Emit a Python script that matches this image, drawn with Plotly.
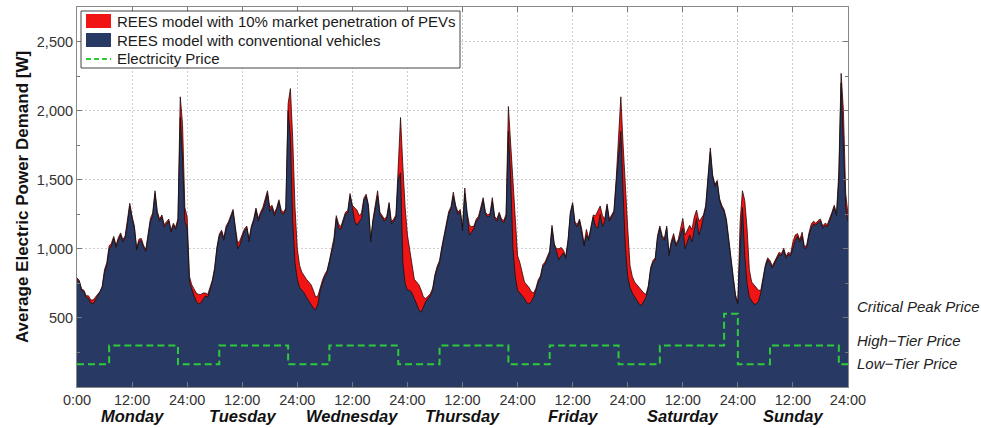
import numpy as np
import plotly.graph_objects as go

# Half-hourly time stamps over one week (hours since Monday 0:00)
hours = np.arange(0, 168.5, 0.5)

# Average household demand, conventional vehicles [W]
demand_conventional = [
    # Monday
    780, 760, 700, 690, 650, 640, 610, 600, 630, 660,
    680, 720, 830, 880, 1000, 1020, 1075, 1010, 1060, 1100,
    1050, 1080, 1180, 1310, 1220, 1150, 990, 1050, 1060, 1010,
    980, 1110, 1200, 1240, 1400, 1250, 1200, 1230, 1160, 1180,
    1200, 1120, 1170, 1140, 1200, 1950, 1650, 1200,
    # Tuesday
    1150, 760, 700, 660, 620, 600, 610, 640, 660, 650,
    700, 760, 850, 1000, 1090, 1120, 1060, 1150, 1180, 1220,
    1270, 1140, 1000, 1030, 1090, 1130, 1150, 1050, 1150, 1200,
    1280, 1200, 1250, 1280, 1330, 1400, 1270, 1300, 1240, 1280,
    1340, 1260, 1250, 1280, 2000, 1800, 1200, 900,
    # Wednesday
    780, 720, 700, 680, 650, 620, 600, 570, 560, 600,
    700, 760, 800, 830, 900, 990, 1050, 1220, 1150, 1140,
    1190, 1250, 1260, 1380, 1300, 1200, 1170, 1200, 1220, 1350,
    1380, 1300, 1050, 1200, 1280, 1380, 1250, 1220, 1200, 1220,
    1320, 1180, 1200, 1230, 1500, 1550, 900, 750,
    # Thursday
    700, 700, 680, 640, 600, 560, 540, 580, 620, 640,
    660, 700, 800, 860, 900, 1000, 1080, 1180, 1250, 1290,
    1380, 1300, 1250, 1270, 1130, 1400, 1250, 1100, 1120, 1150,
    1200, 1220, 1280, 1350, 1250, 1230, 1240, 1340, 1220, 1200,
    1250, 1200, 1190, 1230, 1850, 1500, 1000, 800,
    # Friday
    700, 680, 660, 640, 610, 600, 620, 650, 700, 760,
    790, 870, 890, 930, 970, 1150, 1020, 980, 920, 950,
    970, 930, 1050, 1250, 1320, 1180, 1160, 1200, 1110, 1020,
    1100, 1060, 1150, 1230, 1160, 1150, 1250, 1160, 1200, 1310,
    1200, 1230, 1260, 1480, 1700, 1850, 1400, 1000,
    # Saturday
    800, 720, 680, 650, 620, 600, 590, 620, 650, 720,
    850, 900, 920, 1080, 1150, 1080, 1060, 1150, 950, 1040,
    1080, 1020, 1050, 1100, 1150, 1000, 1050, 1100, 1050, 1150,
    1220, 1100, 1150, 1230, 1300, 1500, 1700, 1520, 1450, 1480,
    1350, 1300, 1270, 1200, 1050, 900, 780, 650,
    # Sunday
    600, 1000, 1300, 950, 750, 650, 620, 600, 600, 620,
    680, 780, 870, 920, 900, 860, 890, 920, 960, 950,
    990, 930, 960, 950, 1000, 1060, 1090, 1050, 1090, 1000,
    1010, 1100, 1150, 1180, 1170, 1190, 1200, 1150, 1170, 1160,
    1200, 1250, 1300, 1240, 1500, 2200, 1700, 1300, 1200,
]

# Additional load from PEV charging at 10% market penetration [W]
pev_charging = [
    # Monday
    10, 10, 10, 10, 10, 20, 20, 30, 20, 10,
    10, 10, 20, 20, 20, 20, 15, 15, 20, 15,
    15, 15, 20, 20, 15, 15, 15, 20, 15, 15,
    15, 15, 20, 20, 20, 20, 15, 15, 15, 15,
    15, 15, 15, 15, 20, 150, 250, 100,
    # Tuesday
    80, 40, 40, 50, 60, 70, 60, 40, 20, 20,
    15, 15, 15, 15, 15, 15, 20, 15, 15, 15,
    15, 20, 40, 30, 15, 15, 15, 20, 15, 15,
    15, 20, 15, 20, 30, 20, 30, 15, 20, 15,
    15, 20, 15, 15, 50, 360, 600, 400,
    # Wednesday
    220, 160, 130, 120, 130, 140, 140, 130, 90, 60,
    20, 15, 15, 15, 15, 15, 30, 20, 30, 20,
    15, 15, 15, 20, 15, 100, 110, 40, 40, 15,
    15, 20, 15, 15, 50, 40, 15, 15, 15, 15,
    15, 15, 15, 15, 100, 400, 700, 550,
    # Thursday
    400, 300, 200, 140, 160, 180, 160, 70, 20, 15,
    15, 15, 15, 15, 15, 15, 15, 15, 20, 15,
    30, 15, 15, 15, 20, 40, 15, 70, 40, 15,
    15, 15, 15, 20, 15, 15, 15, 30, 15, 15,
    15, 15, 15, 20, 180, 250, 500, 400,
    # Friday
    250, 220, 160, 120, 130, 120, 70, 30, 15, 15,
    15, 15, 15, 15, 15, 20, 15, 20, 80, 60,
    20, 15, 15, 15, 15, 15, 15, 15, 30, 15,
    40, 15, 15, 15, 80, 130, 60, 80, 15, 15,
    15, 15, 15, 30, 80, 250, 350, 400,
    # Saturday
    350, 160, 120, 110, 120, 120, 110, 60, 20, 15,
    15, 15, 15, 15, 15, 15, 15, 15, 15, 15,
    30, 15, 15, 50, 70, 100, 80, 70, 90, 80,
    60, 100, 70, 15, 15, 15, 30, 15, 15, 15,
    15, 15, 15, 15, 15, 15, 15, 15,
    # Sunday
    15, 200, 120, 400, 400, 200, 140, 140, 120, 80,
    20, 15, 15, 15, 15, 15, 15, 15, 15, 15,
    15, 15, 15, 15, 50, 40, 20, 15, 30, 15,
    15, 15, 30, 20, 15, 15, 15, 15, 15, 15,
    15, 15, 15, 15, 50, 70, 300, 100, 50,
]

demand_pev = [c + e for c, e in zip(demand_conventional, pev_charging)]

# Electricity price schedule (drawn on the demand scale as tier levels)
price_hours = [0, 7, 22, 31, 46, 55, 70, 79, 94, 103, 118, 127, 141, 144, 151, 166, 168]
price_level = [165, 300, 165, 300, 165, 300, 165, 300, 165, 300, 165, 300, 530, 165, 300, 165, 165]

tier_names = ["Critical Peak Price", "High\u2212Tier Price", "Low\u2212Tier Price"]
tier_label_y = [580, 340, 172]

day_names = ["Monday", "Tuesday", "Wednesday", "Thursday", "Friday", "Saturday", "Sunday"]
tick_hours = list(range(0, 169, 12))
tick_text = ["0:00"] + ["12:00", "24:00"] * 7
y_ticks = [500, 1000, 1500, 2000, 2500]

series_names = [
    "REES model with 10% market penetration of PEVs",
    "REES model with conventional vehicles",
    "Electricity Price",
]

FONT = "Liberation Sans, Arial, Helvetica, sans-serif"
RED = "#F01414"
NAVY = "#283A63"
GREEN = "#2DCB3A"

W, H = 981, 428
M_L, M_R, M_T, M_B = 77, 133, 7, 41
PLOT_W = W - M_L - M_R
PLOT_H = H - M_T - M_B


def px_x(px):
    """Page pixel column -> paper x fraction."""
    return (px - M_L) / PLOT_W


def px_y(py):
    """Page pixel row -> paper y fraction."""
    return (H - M_B - py) / PLOT_H


fig = go.Figure()
fig.add_trace(go.Scatter(
    x=hours, y=demand_pev, mode="lines", fill="tozeroy",
    fillcolor=RED, line=dict(color="#2a0808", width=0.8),
    name=series_names[0], showlegend=False,
))
fig.add_trace(go.Scatter(
    x=hours, y=demand_conventional, mode="lines", fill="tozeroy",
    fillcolor=NAVY, line=dict(color="#101010", width=0.8),
    name=series_names[1], showlegend=False,
))
fig.add_trace(go.Scatter(
    x=price_hours, y=price_level, mode="lines",
    line=dict(color=GREEN, width=2, dash="7px,4px", shape="hv"),
    name=series_names[2], showlegend=False,
))

# Legend box drawn with shapes so the swatches can be full-height patches
shapes = [
    dict(type="rect", xref="paper", yref="paper",
         x0=px_x(81), x1=px_x(460), y0=px_y(68), y1=px_y(11),
         fillcolor="white", line=dict(color="#444", width=1), layer="above"),
    dict(type="rect", xref="paper", yref="paper",
         x0=px_x(86), x1=px_x(111), y0=px_y(28), y1=px_y(14),
         fillcolor=RED, line=dict(width=0), layer="above"),
    dict(type="rect", xref="paper", yref="paper",
         x0=px_x(86), x1=px_x(111), y0=px_y(47), y1=px_y(33),
         fillcolor=NAVY, line=dict(width=0), layer="above"),
    dict(type="line", xref="paper", yref="paper",
         x0=px_x(86), x1=px_x(111), y0=px_y(59), y1=px_y(59),
         line=dict(color=GREEN, width=2, dash="5px,3px"), layer="above"),
]
fig.update_layout(shapes=shapes)

for name, row in zip(series_names, [21, 40, 59]):
    fig.add_annotation(
        x=px_x(115), xref="paper", y=px_y(row), yref="paper",
        text=name, showarrow=False, xanchor="left", yanchor="middle",
        font=dict(family=FONT, size=15, color="#1a1a1a"),
    )

for name, yv in zip(tier_names, tier_label_y):
    fig.add_annotation(
        x=px_x(855), xref="paper", y=yv, yref="y", text=f"<i>{name}</i>",
        showarrow=False, xanchor="left", yanchor="middle",
        font=dict(family=FONT, size=15, color="#222"),
    )

for d, name in enumerate(day_names):
    fig.add_annotation(
        x=12 + 24 * d, xref="x", y=0, yref="paper", yshift=-29,
        text=f"<b><i>{name}</i></b>", showarrow=False,
        xanchor="center", yanchor="middle", borderpad=0,
        font=dict(family=FONT, size=16.5, color="#111"),
    )

fig.update_layout(
    width=W, height=H,
    margin=dict(l=M_L, r=M_R, t=M_T, b=M_B),
    plot_bgcolor="white", paper_bgcolor="white",
    font=dict(family=FONT, size=14.5, color="#333"),
    showlegend=False,
)

fig.update_xaxes(
    range=[0, 168], tickmode="array", tickvals=tick_hours, ticktext=tick_text,
    ticks="inside", ticklen=5, tickcolor="#777",
    showline=True, linecolor="#888", linewidth=1, mirror="ticks",
    showgrid=True, gridcolor="#cfcfcf", griddash="2px,2px", zeroline=False,
    tickfont=dict(family=FONT, size=14.5, color="#333"),
)
fig.update_yaxes(
    range=[0, 2750], tickmode="array", tickvals=y_ticks, tickformat=",",
    ticks="inside", ticklen=5, tickcolor="#777",
    minor=dict(dtick=250, tick0=0, ticks="inside", ticklen=3, tickcolor="#777", showgrid=False),
    showline=True, linecolor="#888", linewidth=1, mirror="ticks",
    showgrid=True, gridcolor="#cfcfcf", griddash="2px,2px", zeroline=False,
    tickfont=dict(family=FONT, size=14.5, color="#333"),
    title=dict(text="<b>Average Electric Power Demand [W]</b>",
               font=dict(family=FONT, size=17, color="#111"), standoff=3),
)

fig.write_html("out.html")
